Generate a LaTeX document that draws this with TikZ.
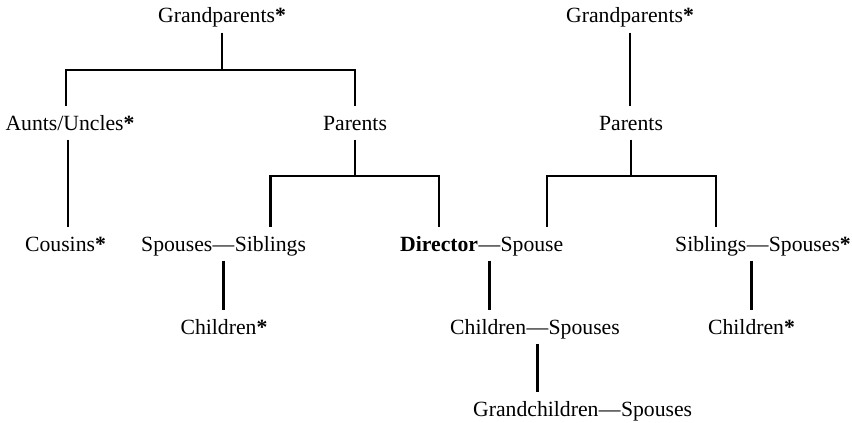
\documentclass[tikz,border=0pt]{standalone}
\usepackage{fontspec}
\setmainfont{Liberation Serif}
\begin{document}
\begin{tikzpicture}[x=1pt,y=-1pt,
  lbl/.style={font=\fontsize{21.7pt}{26pt}\selectfont, inner xsep=0pt, inner ysep=9.5pt,
    text height=14.4pt, text depth=0pt},
  conn/.style={line width=2.5pt, line join=miter}]
\useasboundingbox (0,0) rectangle (852,423);
% row 1
\node[lbl, anchor=base] (gp1) at (222,23) {Grandparents\textbf{*}};
\node[lbl, anchor=base] (gp2) at (630,23) {Grandparents\textbf{*}};
% row 2
\node[lbl, anchor=base] (au) at (70,130) {Aunts/Uncles\textbf{*}};
\node[lbl, anchor=base] (par1) at (355,130) {Parents};
\node[lbl, anchor=base] (par2) at (631,130) {Parents};
% row 3
\node[lbl, anchor=base] (cou) at (65.5,251) {Cousins\textbf{*}};
\node[lbl, anchor=base west] (sp1) at (141,251) {Spouses};
\node[lbl, anchor=base west] (d1) at (sp1.base east) {\textemdash};
\node[lbl, anchor=base west] (sib1) at (d1.base east) {Siblings};
\node[lbl, anchor=base west] (dir) at (400,251) {\textbf{Director}};
\node[lbl, anchor=base west] (d2) at (dir.base east) {\textemdash};
\node[lbl, anchor=base west] (dsp) at (d2.base east) {Spouse};
\node[lbl, anchor=base west] (sib2) at (675,251) {Siblings};
\node[lbl, anchor=base west] (d3) at (sib2.base east) {\textemdash};
\node[lbl, anchor=base west] (sp2) at (d3.base east) {Spouses\textbf{*}};
% row 4
\node[lbl, anchor=base] (ch1) at (224,334) {Children\textbf{*}};
\node[lbl, anchor=base west] (ch3) at (450,334) {Children};
\node[lbl, anchor=base west] (d4) at (ch3.base east) {\textemdash};
\node[lbl, anchor=base west] (sp3) at (d4.base east) {Spouses};
\node[lbl, anchor=base] (ch4) at (751.5,334) {Children\textbf{*}};
% row 5
\node[lbl, anchor=base west] (gc) at (473,416) {Grandchildren};
\node[lbl, anchor=base west] (d5) at (gc.base east) {\textemdash};
\node[lbl, anchor=base west] (sp4) at (d5.base east) {Spouses};
% bar levels
\coordinate (y1) at (0,70);
\coordinate (y2) at (0,176);
\coordinate (auT) at ([xshift=-4pt]au.north);
\coordinate (auB) at ([xshift=-2pt]au.south);
\coordinate (dspT) at ([xshift=15pt]dsp.north);
\coordinate (sib2T) at ([xshift=5pt]sib2.north);
% connectors
\draw[conn] (gp1.south) -- (gp1.south |- y1);
\draw[conn] (auT) -- (auT |- y1) -| (par1.north);
\draw[conn] (auB) -- (auB |- cou.north);
\draw[conn] (par1.south) -- (par1.south |- y2);
\draw[conn] (sib1.north) -- (sib1.north |- y2) -| (dir.north);
\draw[conn] (gp2.south) -- (gp2.south |- par2.north);
\draw[conn] (par2.south) -- (par2.south |- y2);
\draw[conn] (dspT) -- (dspT |- y2) -| (sib2T);
\draw[conn] (d1.south) -- (d1.south |- ch1.north);
\draw[conn] (d2.south) -- (d2.south |- ch3.north);
\draw[conn] (d4.south) -- (d4.south |- gc.north);
\draw[conn] (ch4.north |- d3.south) -- (ch4.north);
\end{tikzpicture}
\end{document}
